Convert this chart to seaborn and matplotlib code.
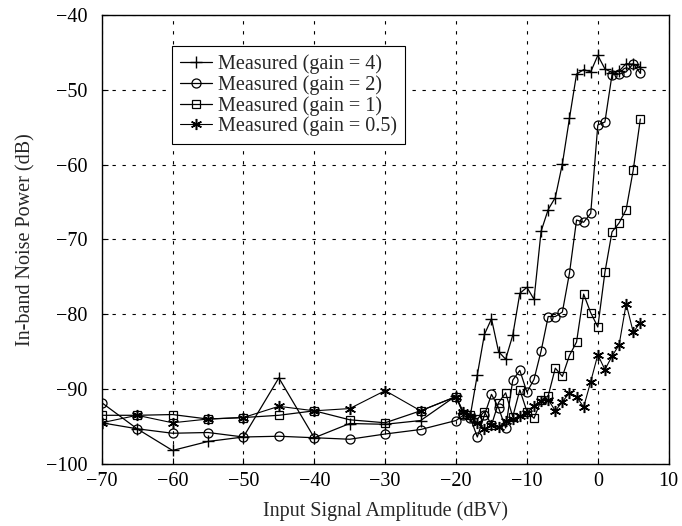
import numpy as np
import pandas as pd
import matplotlib
matplotlib.use("Agg")
import matplotlib.pyplot as plt
import seaborn as sns

# ---- data ----
x_coarse = [-70, -65, -60, -55, -50, -45, -40, -35, -30, -25, -20]
x_fine = [-19, -18, -17, -16, -15, -14, -13, -12, -11, -10, -9, -8, -7,
          -6, -5, -4, -3, -2, -1, 0, 1, 2, 3, 4, 5, 6]
x_all = x_coarse + x_fine

gain4 = [-94.5, -95.3, -98.2, -97.0, -96.4, -88.5, -96.5, -94.6, -94.7, -94.2, -90.9,
         -93.2, -93.6, -88.1, -82.7, -80.6, -85.0, -86.0, -82.8, -77.2, -76.4, -78.0,
         -68.9, -66.0, -64.4, -59.9, -53.8, -47.9, -47.3, -47.6, -45.4, -47.2, -47.7,
         -47.5, -46.5, -46.6, -46.9]
gain2 = [-91.8, -95.3, -95.9, -95.8, -96.4, -96.3, -96.5, -96.7, -96.0, -95.4, -94.2,
         -93.5, -93.8, -96.4, -93.5, -90.7, -92.5, -95.2, -88.8, -87.5, -90.4, -88.7,
         -84.9, -80.3, -80.3, -79.7, -74.5, -67.4, -67.7, -66.5, -54.7, -54.3, -48.0,
         -47.9, -47.6, -46.5, -47.8]
gain1 = [-93.5, -93.5, -93.4, -94.0, -93.8, -93.5, -92.9, -94.1, -94.5, -92.9, -91.0,
         -93.3, -93.5, -94.0, -93.0, -94.8, -91.8, -90.5, -93.7, -90.1, -93.0, -93.9,
         -91.5, -90.9, -87.2, -88.3, -85.5, -83.7, -77.3, -79.8, -81.7, -74.4, -69.0,
         -67.8, -66.0, -60.7, -53.9]
gain05 = [-94.5, -93.5, -94.5, -94.0, -93.8, -92.3, -92.9, -92.6, -90.2, -92.9, -91.0,
          -93.0, -93.6, -94.5, -95.3, -94.8, -95.1, -94.3, -94.0, -93.6, -93.2, -92.2,
          -91.6, -91.4, -92.9, -91.7, -90.5, -91.0, -92.4, -89.0, -85.4, -87.4, -85.6,
          -84.1, -78.6, -82.4, -81.1]

labels = ["Measured (gain = 4)", "Measured (gain = 2)",
          "Measured (gain = 1)", "Measured (gain = 0.5)"]
series = [gain4, gain2, gain1, gain05]

xticks = [-70, -60, -50, -40, -30, -20, -10, 0, 10]
yticks = [-100, -90, -80, -70, -60, -50, -40]

# ---- plot ----
sns.set_theme(style="ticks")
plt.rcParams["font.family"] = ["Liberation Serif", "DejaVu Serif"]
plt.rcParams["axes.unicode_minus"] = True

fig = plt.figure(figsize=(6.82, 5.26), dpi=100)
ax = fig.add_axes([0.149, 0.118, 0.8315, 0.8535])

styles = [
    dict(marker="+", markersize=9, markeredgewidth=1.0, linewidth=0.9),
    dict(marker="o", markersize=6.5, markerfacecolor="none", markeredgewidth=0.9, linewidth=0.9),
    dict(marker="s", markersize=5.5, markerfacecolor="none", markeredgewidth=0.9, linewidth=0.9),
    dict(marker=(6, 2, 0), markersize=8, markeredgewidth=1.1, linewidth=0.8),
]

for vals, lab, st in zip(series, labels, styles):
    df = pd.DataFrame({"x": x_all, "y": vals})
    sns.lineplot(data=df, x="x", y="y", ax=ax, color="black", label=lab,
                 markeredgecolor="black", **st)

ax.set_xlim(-70, 10)
ax.set_ylim(-100, -40)
ax.set_xticks(xticks)
ax.set_yticks(yticks)
ax.tick_params(direction="in", length=4, width=0.8, labelsize=14.5, colors="black")
ax.tick_params(axis="y", pad=10)
ax.tick_params(axis="x", pad=6)
ax.grid(True, color="black", linestyle=(0, (3, 6)), linewidth=0.8)
for sp in ax.spines.values():
    sp.set_visible(True)
    sp.set_color("black")
    sp.set_linewidth(1.0)

ax.set_xlabel("Input Signal Amplitude (dBV)", fontsize=14.5, labelpad=7)
ax.set_ylabel("In-band Noise Power (dB)", fontsize=14.5, labelpad=8)

leg = ax.legend(loc="upper left", bbox_to_anchor=(0.124, 0.93), fontsize=14.5,
                frameon=True, fancybox=False, framealpha=1, edgecolor="black",
                handlelength=1.6, handletextpad=0.3, borderpad=0.4,
                labelspacing=0.05, borderaxespad=0)
leg.get_frame().set_linewidth(0.8)

fig.savefig("out.png", dpi=100)
